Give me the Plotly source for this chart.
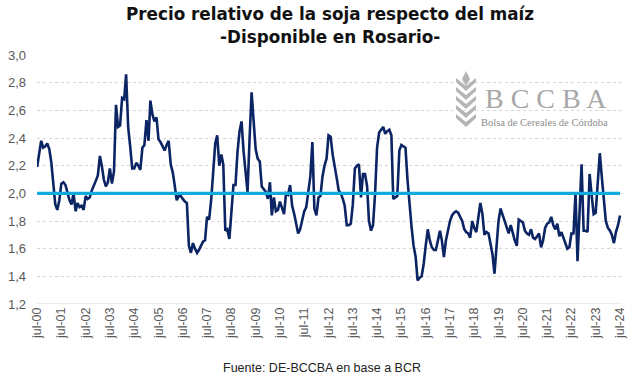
import pandas as pd
import plotly.graph_objects as go

# Monthly relative price soy/corn, jul-00 .. jul-24
ratio = [
    2.19, 2.30, 2.38, 2.33, 2.34, 2.36, 2.32, 2.22, 2.05, 1.92, 1.88, 1.95,
    2.07, 2.08, 2.06, 2.00, 1.95, 1.92, 2.00, 1.87, 1.93, 1.90, 1.91, 1.88,
    1.98, 1.96, 1.97, 2.02, 2.05, 2.09, 2.13, 2.27, 2.20, 2.10, 2.05, 2.08,
    2.18, 2.07, 2.16, 2.64, 2.48, 2.49, 2.69, 2.68, 2.86, 2.48, 2.34, 2.18,
    2.18, 2.22, 2.20, 2.17, 2.33, 2.35, 2.53, 2.38, 2.67, 2.57, 2.52, 2.55,
    2.39, 2.37, 2.34, 2.31, 2.35, 2.38, 2.21, 2.15, 2.06, 1.95, 1.98, 1.98,
    1.96, 1.94, 1.93, 1.62, 1.57, 1.64, 1.60, 1.57, 1.59, 1.62, 1.65, 1.66,
    1.83, 1.81, 1.95, 2.15, 2.36, 2.42, 2.20, 2.28, 2.21, 1.73, 1.74, 1.67,
    1.88, 2.06, 2.06, 2.30, 2.45, 2.52, 2.30, 2.12, 2.01, 2.40, 2.73, 2.52,
    2.32, 2.25, 2.23, 2.05, 2.03, 2.01, 1.96, 2.08, 1.84, 1.97, 1.87, 1.88,
    1.94, 1.90, 1.85, 2.00, 1.99, 2.06, 1.91, 1.85, 1.78, 1.71, 1.74, 1.80,
    1.87, 1.90, 2.03, 2.12, 2.37, 1.89, 1.84, 1.97, 1.98, 2.12, 2.20, 2.25,
    2.42, 2.41, 2.28, 2.18, 2.11, 2.02, 2.00, 1.96, 1.91, 1.77, 1.77, 1.78,
    1.92, 2.18, 2.20, 2.21, 1.97, 2.14, 2.14, 2.05, 1.80, 1.73, 1.77, 2.00,
    2.33, 2.44, 2.46, 2.48, 2.43, 2.45, 2.46, 2.42, 1.96, 1.97, 1.98, 2.31,
    2.35, 2.34, 2.33, 2.10, 1.90, 1.76, 1.62, 1.54, 1.37, 1.39, 1.40, 1.49,
    1.62, 1.74, 1.66, 1.61, 1.59, 1.59, 1.66, 1.73, 1.66, 1.54, 1.66, 1.73,
    1.80, 1.84, 1.86, 1.87, 1.86, 1.83, 1.80, 1.74, 1.72, 1.71, 1.68, 1.80,
    1.75, 1.72, 1.83, 1.93, 1.85, 1.70, 1.72, 1.71, 1.64, 1.56, 1.42, 1.62,
    1.80, 1.89, 1.84, 1.79, 1.74, 1.71, 1.77, 1.70, 1.66, 1.62, 1.81, 1.80,
    1.79, 1.73, 1.71, 1.70, 1.74, 1.68, 1.67, 1.69, 1.71, 1.61, 1.66, 1.75,
    1.78, 1.79, 1.83, 1.77, 1.74, 1.78, 1.69, 1.72, 1.68, 1.63, 1.60, 1.61,
    1.71, 1.71, 2.00, 1.51, 1.88, 2.21, 1.73, 1.73, 1.72, 2.14, 1.99, 1.85,
    1.86, 2.05, 2.29, 2.12, 1.97, 1.80, 1.75, 1.73, 1.70, 1.64, 1.72, 1.77,
    1.84,
]
reference_level = 2.0
dates = pd.date_range("2000-07-01", periods=len(ratio), freq="MS")

tick_dates = pd.date_range("2000-07-01", "2024-07-01", freq="12MS")
tick_labels = [f"jul-{d.year % 100:02d}" for d in tick_dates]
y_ticks = [1.2, 1.4, 1.6, 1.8, 2.0, 2.2, 2.4, 2.6, 2.8, 3.0]

title_1 = "Precio relativo de la soja respecto del maíz"
title_2 = "-Disponible en Rosario-"
source = "Fuente: DE-BCCBA en base a BCR"

fig = go.Figure()
fig.add_trace(go.Scatter(x=dates, y=ratio, mode="lines",
                         line=dict(color="#0b2463", width=2.6), hoverinfo="skip"))
fig.add_trace(go.Scatter(x=[dates[0], dates[-1]], y=[reference_level] * 2, mode="lines",
                         line=dict(color="#12a9dc", width=3.2), hoverinfo="skip"))

fig.update_layout(
    width=640, height=383,
    margin=dict(l=37, r=18, t=55, b=79),
    paper_bgcolor="white", plot_bgcolor="white",
    showlegend=False,
    separators=",.",
    font=dict(family="Liberation Sans, Arial, sans-serif", color="#595959"),
    xaxis=dict(
        range=[dates[0] - pd.Timedelta(days=1), dates[-1] + pd.Timedelta(days=30)],
        tickmode="array", tickvals=tick_dates, ticktext=tick_labels,
        tickangle=-90, tickfont=dict(size=12.5, color="#595959"),
        showgrid=False, zeroline=False, showline=False, ticks="",
        automargin=False,
    ),
    yaxis=dict(
        range=[1.2, 3.0], tickmode="array", tickvals=y_ticks,
        tickformat=".1f", tickfont=dict(size=13, color="#595959"),
        showgrid=True, gridcolor="#d6d6d6", griddash="dot", gridwidth=1,
        zeroline=False, showline=False, ticks="", ticklabelstandoff=10,
        automargin=False,
    ),
)

# bottom axis baseline (solid) at 1.2
fig.add_shape(type="line", xref="paper", yref="y", x0=0, x1=1, y0=1.2, y1=1.2,
              line=dict(color="#d9d9d9", width=1.2))

# titles
tfont = dict(family="DejaVu Sans, sans-serif", size=16.8, color="#111111")
fig.add_annotation(text=f"<b>{title_1}</b>", xref="paper", yref="paper", x=0.5, y=1.1647,
                   xanchor="center", yanchor="middle", showarrow=False, font=tfont)
fig.add_annotation(text=f"<b>{title_2}</b>", xref="paper", yref="paper", x=0.5, y=1.072,
                   xanchor="center", yanchor="middle", showarrow=False, font=tfont)

# source
fig.add_annotation(text=source, xref="paper", yref="paper",
                   x=0.487, y=-0.257, yanchor="middle", showarrow=False,
                   font=dict(size=12.5, color="#222222"))

# logo text
fig.add_annotation(text="B C C B A", xref="paper", yref="paper", x=0.870, y=0.825,
                   xanchor="center", yanchor="middle", showarrow=False,
                   font=dict(family="Liberation Serif, serif", size=28, color="#a8a8a8"))
fig.add_annotation(text="Bolsa de Cereales de Córdoba", xref="paper", yref="paper",
                   x=0.868, y=0.728, xanchor="center", yanchor="middle", showarrow=False,
                   font=dict(family="Liberation Serif, serif", size=10.5, color="#8c8c8c"))

# wheat icon (simple leaf chevrons)
def px(xp, yp):
    return (xp - 37) / 585, (304 - yp) / 249

for k in range(5):
    yb = 86 + k * 9
    pts = [px(456, yb - 8), px(466, yb), px(476, yb - 8), px(476, yb - 4), px(466, yb + 5), px(456, yb - 4)]
    path = "M " + " L ".join(f"{a:.4f},{b:.4f}" for a, b in pts) + " Z"
    fig.add_shape(type="path", xref="paper", yref="paper", path=path,
                  fillcolor="#b5b5b5", line=dict(width=0))
tip = [px(466, 71), px(470, 79), px(466, 86), px(462, 79)]
fig.add_shape(type="path", xref="paper", yref="paper",
              path="M " + " L ".join(f"{a:.4f},{b:.4f}" for a, b in tip) + " Z",
              fillcolor="#b5b5b5", line=dict(width=0))

fig.write_html("out.html", config={"displayModeBar": False},
               post_script="document.body.style.margin='0';")
